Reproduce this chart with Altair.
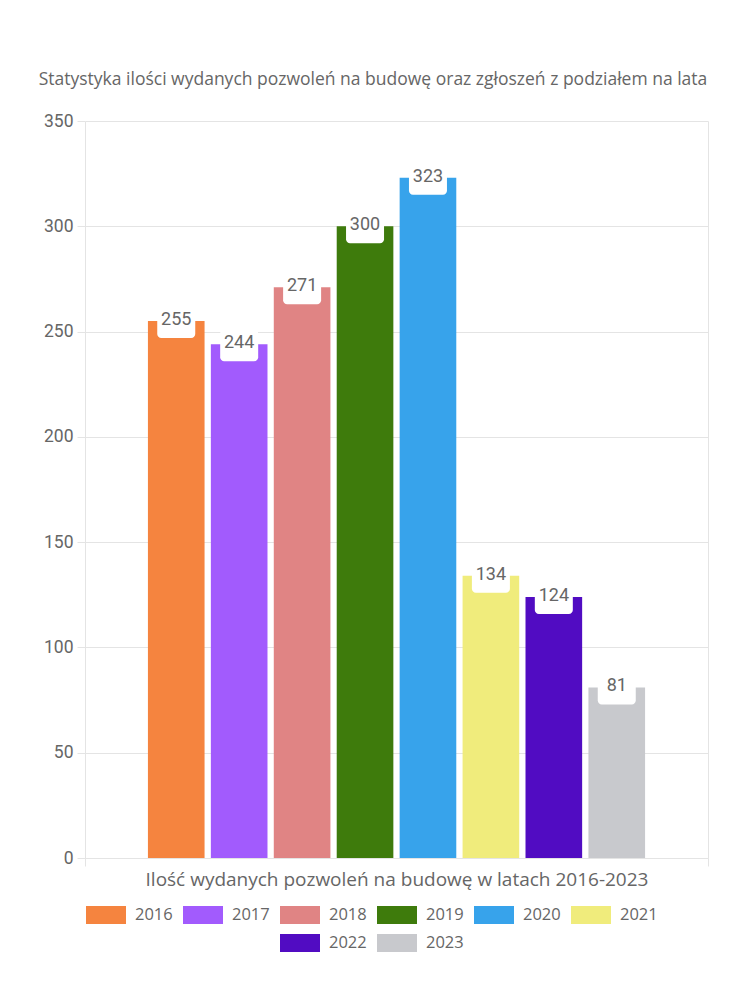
import altair as alt
import pandas as pd

years = ["2016", "2017", "2018", "2019", "2020", "2021", "2022", "2023"]
values = [255, 244, 271, 300, 323, 134, 124, 81]
colors = ["#f5843f", "#a25bfd", "#e08484", "#3e7b0c", "#37a3eb", "#f0ec7c", "#510cc2", "#c8c9cd"]
category = "Ilość wydanych pozwoleń na budowę w latach 2016-2023"
title = "Statystyka ilości wydanych pozwoleń na budowę oraz zgłoszeń z podziałem na lata"
y_ticks = [0, 50, 100, 150, 200, 250, 300, 350]

df = pd.DataFrame({"kat": [category] * len(years), "rok": years, "wartosc": values})

GRID = "#e4e4e4"
TXT = "#666666"
FONT = "Open Sans"
NUMFONT = "Roboto"

base = alt.Chart(df).encode(
    x=alt.X("kat:N", title=category,
            scale=alt.Scale(paddingInner=0, paddingOuter=0),
            axis=alt.Axis(labels=False, tickBand="extent", grid=True, gridColor=GRID,
                          tickColor=GRID, tickSize=8, domainColor=GRID,
                          titleFont=FONT, titleFontSize=19, titleColor=TXT,
                          titleFontWeight="normal", titlePadding=4)),
    xOffset=alt.XOffset("rok:N", scale=alt.Scale(domain=years, paddingInner=0.1, paddingOuter=1)),
    y=alt.Y("wartosc:Q", title=None,
            scale=alt.Scale(domain=[0, 350]),
            axis=alt.Axis(values=y_ticks, gridColor=GRID, tickColor=GRID, tickSize=8,
                          domain=False, labelFont=NUMFONT, labelFontSize=17.5,
                          labelColor=TXT, labelPadding=4)),
)

sym = "M-1,-0.45H1V0.45H-1Z"

def legend(x, y):
    return alt.Legend(orient="none", legendX=x, legendY=y, direction="horizontal",
                      title=None, symbolType=sym, symbolSize=1600, symbolStrokeWidth=0,
                      symbolOpacity=1, labelFont=FONT, labelFontSize=16.5, labelColor=TXT,
                      labelOffset=9, columnPadding=10)

bars_a = base.transform_filter(
    alt.FieldOneOfPredicate(field="rok", oneOf=years[:6])
).mark_bar().encode(
    color=alt.Color("rok:N", scale=alt.Scale(domain=years[:6], range=colors[:6]),
                    legend=legend(1, 774))
)
bars_b = base.transform_filter(
    alt.FieldOneOfPredicate(field="rok", oneOf=years[6:])
).mark_bar().encode(
    color=alt.Color("rok:N", scale=alt.Scale(domain=years[6:], range=colors[6:]),
                    legend=legend(195, 802))
)

boxes = base.mark_bar(color="white", cornerRadius=4, yOffset=-15, y2Offset=17,
                      width=38).encode(y2="wartosc:Q")

labels = base.mark_text(font=NUMFONT, fontSize=18, color=TXT, baseline="middle", dy=-1).encode(
    text="wartosc:Q")

chart = alt.layer(bars_a, bars_b, boxes, labels).resolve_scale(color="independent").properties(
    width=623, height=737,
    padding={"left": 30, "top": 62, "right": 24, "bottom": 5},
    title=alt.TitleParams(title, font=FONT, fontSize=17.5, color=TXT, fontWeight="normal",
                          anchor="middle", frame="bounds", offset=24, dx=-3),
).configure_view(stroke=None)

chart.save("out.html", embed_options={"renderer": "svg", "actions": False})
